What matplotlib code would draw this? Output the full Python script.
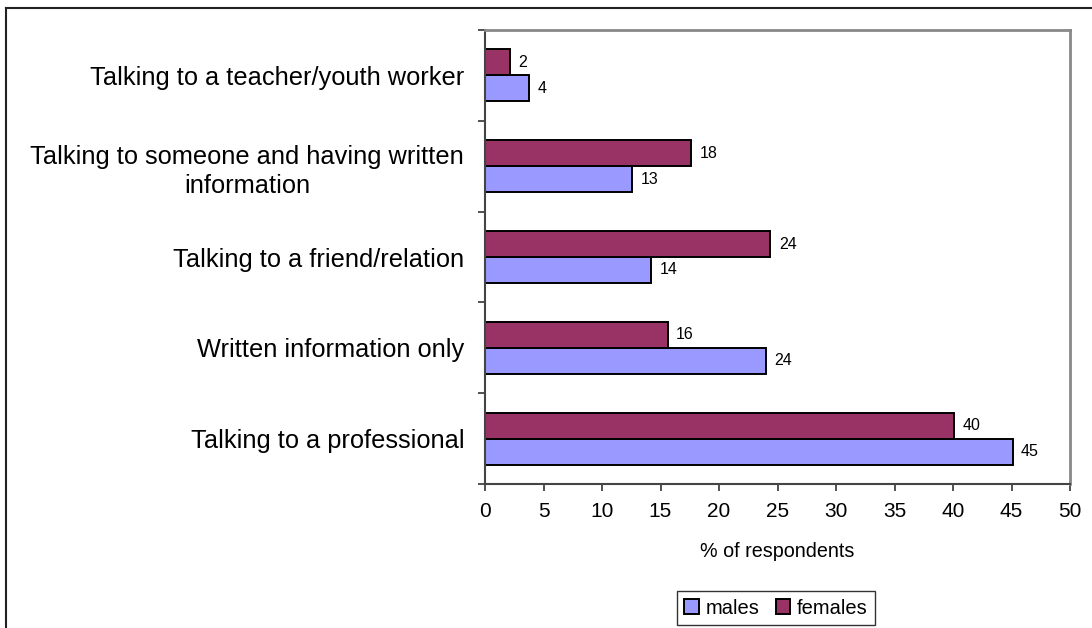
import matplotlib
matplotlib.use("Agg")
import matplotlib.pyplot as plt
from matplotlib.lines import Line2D
import numpy as np

plt.rcParams['font.family'] = ['Liberation Sans', 'DejaVu Sans']

categories = [
    "Talking to a professional",
    "Written information only",
    "Talking to a friend/relation",
    "Talking to someone and having written\ninformation",
    "Talking to a teacher/youth worker",
]
males = [45.1, 24.0, 14.2, 12.6, 3.8]
females = [40.1, 15.6, 24.4, 17.6, 2.1]
males_labels = ["45", "24", "14", "13", "4"]
females_labels = ["40", "16", "24", "18", "2"]
series_names = ["males", "females"]
xticks = [0, 5, 10, 15, 20, 25, 30, 35, 40, 45, 50]

male_color = "#9999FF"
female_color = "#993366"

fig = plt.figure(figsize=(10.92, 6.28), dpi=100)
ax = fig.add_axes([485/1092, 1-484/628, (1070-485)/1092, (484-30)/628])

y = np.arange(len(categories))
h = 0.286
bm = ax.barh(y - h/2, males, height=h, color=male_color, edgecolor="black",
             linewidth=1.4, label=series_names[0])
bf = ax.barh(y + h/2, females, height=h, color=female_color, edgecolor="black",
             linewidth=1.4, label=series_names[1])

ax.bar_label(bm, labels=males_labels, padding=6, fontsize=11.5)
ax.bar_label(bf, labels=females_labels, padding=6, fontsize=11.5)

ax.set_xlim(0, 50)
ax.set_ylim(-0.5, len(categories) - 0.5)
ax.set_xticks(xticks)
ax.set_xticklabels([str(t) for t in xticks], fontsize=15)
ax.set_yticks(y)
ax.set_yticklabels(categories, fontsize=18.3, multialignment="center", linespacing=1.3)
ax.tick_params(axis="y", which="major", length=0, pad=15)
ax.set_yticks(np.arange(-0.5, len(categories), 1.0), minor=True)
ax.tick_params(axis="y", which="minor", length=5, width=1.2, direction="out", color="#333333")
ax.tick_params(axis="x", which="major", length=5, width=1.2, direction="out", color="#333333", pad=8)

ax.set_xlabel("% of respondents", fontsize=14.2, labelpad=15)

for s in ["left", "bottom"]:
    ax.spines[s].set_color("#444444")
    ax.spines[s].set_linewidth(1.5)
for s in ["top", "right"]:
    ax.spines[s].set_color("#888888")
    ax.spines[s].set_linewidth(2)

leg = fig.legend(handles=[bm, bf], labels=series_names, loc="center",
                 bbox_to_anchor=(776/1092, 1-608/628), ncol=2, fontsize=14.5,
                 frameon=True, fancybox=False, handlelength=0.7, handleheight=0.7,
                 handletextpad=0.35, columnspacing=0.8, borderpad=0.35,
                 borderaxespad=0)
leg.get_frame().set_edgecolor("black")
leg.get_frame().set_linewidth(1.0)

# outer chart frame (left and top edges visible)
fig.add_artist(Line2D([6/1092, 6/1092], [0, 1-8/628], color="#222222", linewidth=1.5,
                      transform=fig.transFigure))
fig.add_artist(Line2D([6/1092, 1], [1-8/628, 1-8/628], color="#222222", linewidth=1.5,
                      transform=fig.transFigure))

fig.savefig("out.png", dpi=100)
